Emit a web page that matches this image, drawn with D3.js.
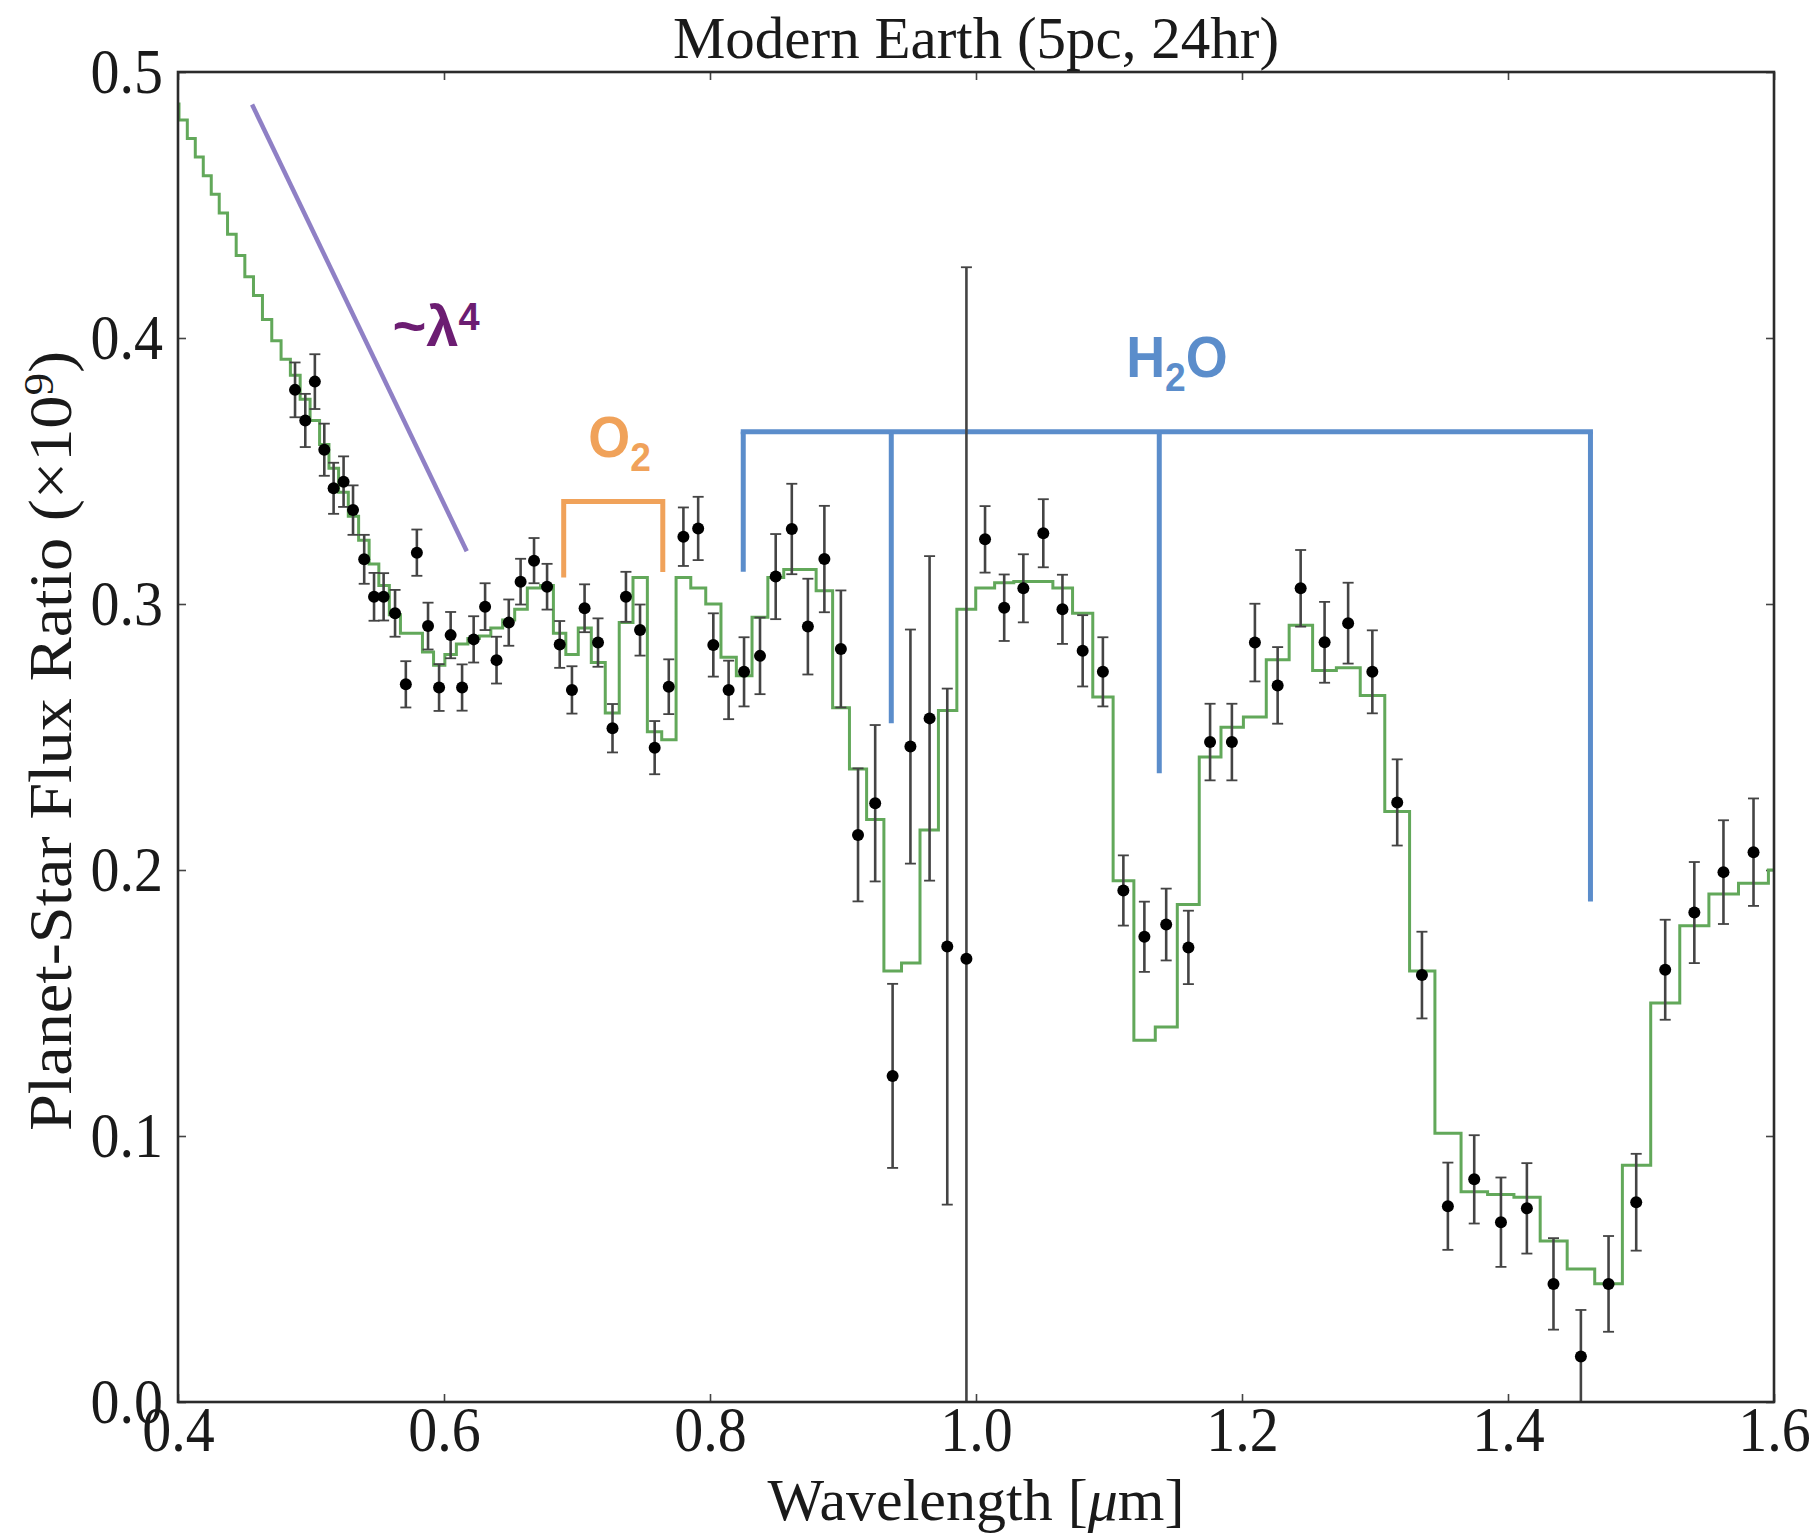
<!DOCTYPE html>
<html>
<head>
<meta charset="utf-8">
<script src="https://cdn.jsdelivr.net/npm/d3@7"></script>
<style>
  body { margin: 0; background: #ffffff; }
  svg { display: block; }
  .tall { transform-box: fill-box; transform-origin: center; transform: scaleY(1.1); }
</style>
</head>
<body>
<svg id="chart" width="1820" height="1537"></svg>
<script>
// ---- Simulated observation: binned flux ratio with 1-sigma errors ----
const obsWavelength = [
  0.488, 0.4957, 0.5029, 0.510, 0.517, 0.5245, 0.5316, 0.540, 0.5474, 0.5546,
  0.5632, 0.5713, 0.5796, 0.588, 0.5963, 0.605, 0.6136, 0.6223, 0.6309, 0.6395,
  0.6487, 0.6576, 0.6677, 0.6775, 0.687, 0.6962, 0.7057, 0.7158, 0.7267, 0.7368,
  0.7474, 0.7584, 0.769, 0.780, 0.7911, 0.8025, 0.814, 0.8256, 0.8376, 0.8494,
  0.8615, 0.8736, 0.886, 0.8984, 0.9113, 0.9242, 0.9373, 0.9507, 0.9651, 0.9784,
  0.9928, 1.0068, 1.0212, 1.0356, 1.0506, 1.065, 1.0802, 1.0954, 1.1108, 1.1266,
  1.143, 1.1597, 1.176, 1.1924, 1.2097, 1.2268, 1.2441, 1.2621, 1.2798, 1.298,
  1.3167, 1.3353, 1.3548, 1.3746, 1.3947, 1.4142, 1.4342, 1.4548, 1.4756, 1.4964,
  1.5182, 1.5401, 1.562, 1.5846
];
const obsFlux = [
  0.3805, 0.369, 0.3836, 0.358, 0.3435, 0.346, 0.3353, 0.3168, 0.3027, 0.3027,
  0.2965, 0.2698, 0.3193, 0.2917, 0.2686, 0.2883, 0.2686, 0.2867, 0.299, 0.2789,
  0.293, 0.3084, 0.3163, 0.3065, 0.2848, 0.2677, 0.2984, 0.2855, 0.2533, 0.3027,
  0.2902, 0.246, 0.2689, 0.3253, 0.3284, 0.2846, 0.2677, 0.2745, 0.2805, 0.3103,
  0.3282, 0.2915, 0.3169, 0.2831, 0.2132, 0.2251, 0.1226, 0.2464, 0.257, 0.1712,
  0.1666, 0.3243, 0.2986, 0.3059, 0.3266, 0.298, 0.2824, 0.2745, 0.1923, 0.1749,
  0.1795, 0.1709, 0.2481, 0.2481, 0.2855, 0.2694, 0.3059, 0.2856, 0.2928, 0.2745,
  0.2254, 0.1605, 0.0736, 0.0837, 0.0676, 0.0728, 0.0444, 0.0171, 0.0444, 0.0751,
  0.1625, 0.184, 0.1992, 0.2067
];
const obsError = [
  0.0103, 0.0100, 0.0103, 0.0098, 0.0096, 0.0095, 0.0093, 0.0092, 0.0090, 0.0089,
  0.0088, 0.0087, 0.0087, 0.0088, 0.0088, 0.0087, 0.0087, 0.0087, 0.0088, 0.0088,
  0.0087, 0.0086, 0.0085, 0.0086, 0.0088, 0.0089, 0.0090, 0.0091, 0.0091, 0.0094,
  0.0096, 0.0100, 0.0103, 0.0110, 0.0119, 0.0119, 0.0110, 0.0130, 0.0144, 0.0160,
  0.0170, 0.0180, 0.0200, 0.0220, 0.0250, 0.0294, 0.0346, 0.0440, 0.0610, 0.0970,
  0.2600, 0.0125, 0.0125, 0.0128, 0.0128, 0.0130, 0.0134, 0.0130, 0.0132, 0.0132,
  0.0135, 0.0138, 0.0144, 0.0144, 0.0146, 0.0144, 0.0144, 0.0152, 0.0152, 0.0156,
  0.0162, 0.0163, 0.0164, 0.0166, 0.0168, 0.0170, 0.0172, 0.0175, 0.0180, 0.0182,
  0.0188, 0.0190, 0.0195, 0.0202
];

// ---- Model spectrum, one value per spectral bin (bin centres) ----
const modelWavelength = [
  0.3975, 0.404, 0.410, 0.416, 0.422, 0.428, 0.434, 0.4405, 0.447, 0.4535,
  0.460, 0.467, 0.474, 0.481,
  0.488, 0.4957, 0.5029, 0.510, 0.517, 0.5245, 0.5316, 0.540, 0.5474, 0.5546,
  0.5632, 0.5713, 0.5796, 0.588, 0.5963, 0.605, 0.6136, 0.6223, 0.6309, 0.6395,
  0.6487, 0.6576, 0.6677, 0.6775, 0.687, 0.6962, 0.7057, 0.7158, 0.7267, 0.7368,
  0.7474, 0.7584, 0.769, 0.780, 0.7911, 0.8025, 0.814, 0.8256, 0.8376, 0.8494,
  0.8615, 0.8736, 0.886, 0.8984, 0.9113, 0.9242, 0.9373, 0.9507, 0.9651, 0.9784,
  0.9928, 1.0068, 1.0212, 1.0356, 1.0506, 1.065, 1.0802, 1.0954, 1.1108, 1.1266,
  1.143, 1.1597, 1.176, 1.1924, 1.2097, 1.2268, 1.2441, 1.2621, 1.2798, 1.298,
  1.3167, 1.3353, 1.3548, 1.3746, 1.3947, 1.4142, 1.4342, 1.4548, 1.4756, 1.4964,
  1.5182, 1.5401, 1.562, 1.5846, 1.607
];
const modelFlux = [
  0.488, 0.482, 0.475, 0.468, 0.461, 0.454, 0.447, 0.439, 0.431, 0.423,
  0.416, 0.407, 0.399, 0.392,
  0.386, 0.377, 0.369, 0.360, 0.351, 0.342, 0.333, 0.324, 0.315, 0.307,
  0.296, 0.289, 0.289, 0.282, 0.277, 0.281, 0.285, 0.287, 0.288, 0.291,
  0.294, 0.298, 0.306, 0.307, 0.289, 0.281, 0.291, 0.278, 0.259, 0.293,
  0.310, 0.252, 0.249, 0.310, 0.306, 0.300, 0.280, 0.273, 0.295, 0.310,
  0.313, 0.313, 0.305, 0.261, 0.238, 0.219, 0.162, 0.165, 0.215, 0.260,
  0.298, 0.306, 0.308, 0.3085, 0.3085, 0.306, 0.2965, 0.265, 0.196, 0.136,
  0.141, 0.187, 0.2425, 0.2537, 0.2575, 0.279, 0.292, 0.275, 0.276, 0.2656,
  0.222, 0.162, 0.101, 0.079, 0.078, 0.077, 0.0605, 0.050, 0.0445, 0.089,
  0.150, 0.179, 0.191, 0.195, 0.200
];

// ---- Axes ----
const xTicks = [0.4, 0.6, 0.8, 1.0, 1.2, 1.4, 1.6];
const xTickLabels = ["0.4", "0.6", "0.8", "1.0", "1.2", "1.4", "1.6"];
const yTicks = [0.0, 0.1, 0.2, 0.3, 0.4, 0.5];
const yTickLabels = ["0.0", "0.1", "0.2", "0.3", "0.4", "0.5"];

// ---- Feature annotations (wavelength, flux-ratio units) ----
const rayleighGuide = [[0.4557, 0.4878], [0.6171, 0.3198]];
const o2Bracket = [[0.690, 0.310], [0.690, 0.3385], [0.7645, 0.3385], [0.7645, 0.312]];
const h2oBarLevel = 0.3648;
const h2oBands = [0.825, 0.9363, 1.1378, 1.462];
const h2oBandEnds = [0.3121, 0.2552, 0.2364, 0.1882];
const rayleighLabelAt = [0.5612, 0.397];
const o2LabelAt = [0.7084, 0.3553];
const h2oLabelAt = [1.1129, 0.3853];

// ---- Layout ----
const plotLeft = 178, plotRight = 1774, plotTop = 72, plotBottom = 1402;
const svg = d3.select("#chart");
const x = d3.scaleLinear().domain([0.4, 1.6]).range([plotLeft, plotRight]);
const y = d3.scaleLinear().domain([0, 0.5]).range([plotBottom, plotTop]);

const serif = "'Liberation Serif', 'Times New Roman', Times, serif";
const sans = "'Liberation Sans', Arial, Helvetica, sans-serif";

svg.append("defs").append("clipPath").attr("id", "plotArea")
  .append("rect").attr("x", plotLeft).attr("y", plotTop)
  .attr("width", plotRight - plotLeft).attr("height", plotBottom - plotTop);

// Axis ticks point inward on all four sides
function styleAxis(g) {
  g.select(".domain").remove();
  g.selectAll(".tick line").attr("stroke", "#444").attr("stroke-width", 1.6);
  g.selectAll(".tick text").attr("fill", "#1a1a1a").attr("class", "tall")
    .style("font-family", serif).style("font-size", "58px");
}
svg.append("g").attr("transform", `translate(0,${plotBottom})`)
  .call(d3.axisBottom(x).tickValues(xTicks).tickFormat((d, i) => xTickLabels[i])
    .tickSizeInner(-8).tickSizeOuter(0).tickPadding(6))
  .call(styleAxis);
svg.append("g").attr("transform", `translate(0,${plotTop})`)
  .call(d3.axisTop(x).tickValues(xTicks).tickFormat("")
    .tickSizeInner(-8).tickSizeOuter(0))
  .call(styleAxis);
svg.append("g").attr("transform", `translate(${plotLeft},0)`)
  .call(d3.axisLeft(y).tickValues(yTicks).tickFormat((d, i) => yTickLabels[i])
    .tickSizeInner(-8).tickSizeOuter(0).tickPadding(15))
  .call(styleAxis);
svg.append("g").attr("transform", `translate(${plotRight},0)`)
  .call(d3.axisRight(y).tickValues(yTicks).tickFormat("")
    .tickSizeInner(-8).tickSizeOuter(0))
  .call(styleAxis);

// ---- Annotations ----
const ann = svg.append("g").attr("fill", "none").attr("stroke-linecap", "butt");
ann.append("path")
  .attr("d", d3.line().x(d => x(d[0])).y(d => y(d[1]))(rayleighGuide))
  .attr("stroke", "#8f80c5").attr("stroke-width", 4.5);
ann.append("path")
  .attr("d", d3.line().x(d => x(d[0])).y(d => y(d[1]))(o2Bracket))
  .attr("stroke", "#f0a25a").attr("stroke-width", 5).attr("stroke-linejoin", "miter");
ann.append("line")
  .attr("x1", x(h2oBands[0])).attr("x2", x(h2oBands[h2oBands.length - 1]))
  .attr("y1", y(h2oBarLevel)).attr("y2", y(h2oBarLevel))
  .attr("stroke", "#5b8dcb").attr("stroke-width", 5).attr("stroke-linecap", "square");
ann.selectAll("line.band").data(h2oBands).join("line").attr("class", "band")
  .attr("x1", d => x(d)).attr("x2", d => x(d))
  .attr("y1", y(h2oBarLevel)).attr("y2", (d, i) => y(h2oBandEnds[i]))
  .attr("stroke", "#5b8dcb").attr("stroke-width", 5);

const rl = svg.append("text")
  .attr("transform", `translate(${x(rayleighLabelAt[0])},${y(rayleighLabelAt[1])})`)
  .attr("fill", "#6c1d72").style("font-family", sans)
  .style("font-weight", "bold").style("font-size", "58px");
rl.append("tspan").text("~λ");
rl.append("tspan").attr("dy", "-0.42em").style("font-size", "38px").text("4");

const o2 = svg.append("text")
  .attr("transform", `translate(${x(o2LabelAt[0])},${y(o2LabelAt[1])}) scale(0.93,1)`)
  .attr("fill", "#f0a25a").style("font-family", sans)
  .style("font-weight", "bold").style("font-size", "58px");
o2.append("tspan").text("O");
o2.append("tspan").attr("dy", "14").style("font-size", "40px").text("2");

const h2o = svg.append("text")
  .attr("transform", `translate(${x(h2oLabelAt[0])},${y(h2oLabelAt[1])}) scale(0.93,1)`)
  .attr("fill", "#5b8dcb").style("font-family", sans)
  .style("font-weight", "bold").style("font-size", "58px");
h2o.append("tspan").text("H");
h2o.append("tspan").attr("dy", "14").style("font-size", "40px").text("2");
h2o.append("tspan").attr("dy", "-14").text("O");

// ---- Model and data ----
const plot = svg.append("g").attr("clip-path", "url(#plotArea)");
const modelPts = modelWavelength.map((w, i) => [w, modelFlux[i]]);
plot.append("path")
  .attr("d", d3.line().x(d => x(d[0])).y(d => y(d[1])).curve(d3.curveStep)(modelPts))
  .attr("fill", "none").attr("stroke", "#62a85a").attr("stroke-width", 3);

const obs = obsWavelength.map((w, i) => ({ w, f: obsFlux[i], e: obsError[i] }));
const capHalf = 5.5;
const errG = plot.append("g").attr("stroke", "#444").attr("stroke-width", 2.6);
errG.selectAll("line.bar").data(obs).join("line").attr("class", "bar")
  .attr("x1", d => x(d.w)).attr("x2", d => x(d.w))
  .attr("y1", d => y(d.f - d.e)).attr("y2", d => y(d.f + d.e));
errG.selectAll("line.capHi").data(obs).join("line").attr("class", "capHi")
  .attr("x1", d => x(d.w) - capHalf).attr("x2", d => x(d.w) + capHalf)
  .attr("y1", d => y(d.f + d.e)).attr("y2", d => y(d.f + d.e)).attr("stroke-width", 1.8);
errG.selectAll("line.capLo").data(obs).join("line").attr("class", "capLo")
  .attr("x1", d => x(d.w) - capHalf).attr("x2", d => x(d.w) + capHalf)
  .attr("y1", d => y(d.f - d.e)).attr("y2", d => y(d.f - d.e)).attr("stroke-width", 1.8);
plot.selectAll("circle.obs").data(obs).join("circle").attr("class", "obs")
  .attr("cx", d => x(d.w)).attr("cy", d => y(d.f)).attr("r", 6).attr("fill", "#000");

// ---- Frame and labels ----
svg.append("rect").attr("x", plotLeft).attr("y", plotTop)
  .attr("width", plotRight - plotLeft).attr("height", plotBottom - plotTop)
  .attr("fill", "none").attr("stroke", "#2b2b2b").attr("stroke-width", 2.6);

svg.append("text").attr("x", (plotLeft + plotRight) / 2).attr("y", 58)
  .attr("text-anchor", "middle").attr("fill", "#1a1a1a")
  .style("font-family", serif).style("font-size", "59px")
  .text("Modern Earth (5pc, 24hr)");

const xl = svg.append("text").attr("x", (plotLeft + plotRight) / 2).attr("y", 1520)
  .attr("text-anchor", "middle").attr("fill", "#1a1a1a")
  .style("font-family", serif).style("font-size", "60px");
xl.append("tspan").text("Wavelength [");
xl.append("tspan").style("font-style", "italic").text("μ");
xl.append("tspan").text("m]");

const yl = svg.append("text")
  .attr("transform", `translate(71,${(plotTop + plotBottom) / 2 + 4}) rotate(-90) scale(1.07,1)`)
  .attr("text-anchor", "middle").attr("fill", "#1a1a1a")
  .style("font-family", serif).style("font-size", "62px");
yl.append("tspan").text("Planet-Star Flux Ratio (×10");
yl.append("tspan").attr("dy", "-0.42em").style("font-size", "42px").text("9");
yl.append("tspan").attr("dy", "0.28em").text(")");
</script>
</body>
</html>
